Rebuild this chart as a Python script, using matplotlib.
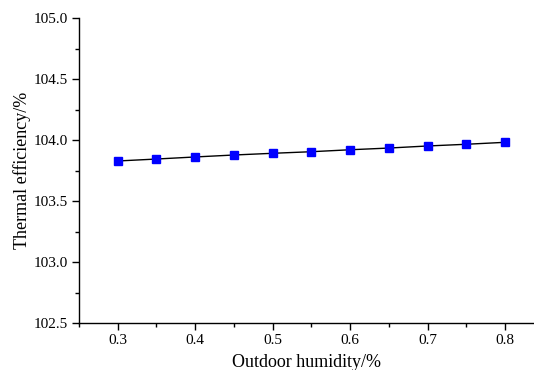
import matplotlib
matplotlib.use("Agg")
import matplotlib.pyplot as plt
from matplotlib.ticker import MultipleLocator

humidity = [0.30, 0.35, 0.40, 0.45, 0.50, 0.55, 0.60, 0.65, 0.70, 0.75, 0.80]
efficiency = [103.828, 103.844, 103.861, 103.877, 103.891, 103.904, 103.920, 103.934, 103.951, 103.965, 103.981]
x_ticks = [0.3, 0.4, 0.5, 0.6, 0.7, 0.8]
x_labels = ['0.3', '0.4', '0.5', '0.6', '0.7', '0.8']
y_ticks = [102.5, 103.0, 103.5, 104.0, 104.5, 105.0]
y_labels = ['102.5', '103.0', '103.5', '104.0', '104.5', '105.0']

plt.rcParams['font.family'] = ['Liberation Serif', 'DejaVu Serif']

fig = plt.figure(figsize=(5.34, 3.70), dpi=100)
ax = fig.add_axes([79/534, 1 - 323/370, (534 - 79)/534, (323 - 18)/370])

ax.plot(humidity, efficiency, color='black', linewidth=1.0,
        marker='s', markersize=5.5, markerfacecolor='#0000ff', markeredgecolor='#0000ff')

ax.set_xlim(0.25, 0.25 + (534 - 79.3) / 774)
ax.set_ylim(102.5, 105.0)
ax.xaxis.set_minor_locator(MultipleLocator(0.05))
ax.yaxis.set_minor_locator(MultipleLocator(0.25))
ax.set_xticks(x_ticks)
ax.set_xticklabels(x_labels)
ax.set_yticks(y_ticks)
ax.set_yticklabels(y_labels)

for s in ['top', 'right']:
    ax.spines[s].set_visible(False)
for s in ['left', 'bottom']:
    ax.spines[s].set_linewidth(1.0)

ax.tick_params(which='major', direction='out', length=5, width=1.0, labelsize=11, pad=3)
ax.tick_params(which='minor', direction='out', length=3, width=1.0)

ax.set_xlabel('Outdoor humidity/%', fontsize=13, labelpad=5)
ax.set_ylabel('Thermal efficiency/%', fontsize=13, labelpad=2)

fig.savefig('out.png', dpi=100)
